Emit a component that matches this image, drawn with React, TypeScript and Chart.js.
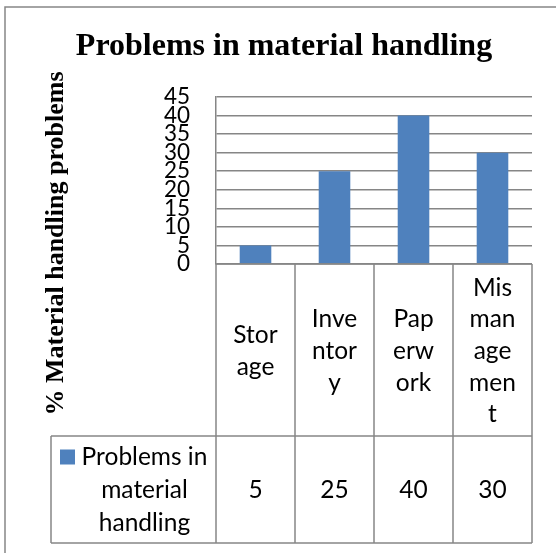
import { useEffect, useRef } from "react";
import { Chart, registerables } from "chart.js";

Chart.register(...registerables);

// ---- chart content ----
const chartTitle = "Problems in material handling";
const yAxisTitle = "% Material handling problems";
const seriesName = "Problems in material handling";
const categories = ["Storage", "Inventory", "Paperwork", "Mismanagement"];
// category names as they wrap inside the narrow table columns
const categoryLines = [
  ["Stor", "age"],
  ["Inve", "ntor", "y"],
  ["Pap", "erw", "ork"],
  ["Mis", "man", "age", "men", "t"],
];
const seriesValues = [5, 25, 40, 30];
const legendLines = ["Problems in", "material", "handling"];
const yMin = 0;
const yMax = 45;
const yStep = 5;

// ---- styling ----
const BAR_COLOR = "#4F81BD";
const LINE_COLOR = "#868686";
const TEXT_FONT = "Lato";
const SERIF_FONT = "'Liberation Serif', 'Times New Roman', serif";

const W = 556;
const H = 553;

const dataTablePlugin = {
  id: "dataTableFrame",
  afterDraw(chart: any) {
    const ctx: CanvasRenderingContext2D = chart.ctx;
    const xs = chart.scales.x;
    const ys = chart.scales.y;
    const area = chart.chartArea;
    const n = categories.length;
    const colW = (area.right - area.left) / n;
    const edges: number[] = [];
    for (let i = 0; i < n; i++) edges.push(xs.getPixelForValue(i) - colW / 2);
    edges.push(xs.getPixelForValue(n - 1) + colW / 2);

    const tableTop = ys.getPixelForValue(0);
    const rowSplit = tableTop + 172;
    const tableBottom = tableTop + 279;
    const legendLeft = 51;

    ctx.save();

    // outer chart frame
    ctx.strokeStyle = LINE_COLOR;
    ctx.lineWidth = 1.5;
    ctx.strokeRect(5, 7, W + 20, H + 20);

    // table grid
    ctx.beginPath();
    for (const e of edges) {
      ctx.moveTo(e, tableTop);
      ctx.lineTo(e, tableBottom);
    }
    ctx.moveTo(legendLeft, rowSplit);
    ctx.lineTo(legendLeft, tableBottom);
    ctx.moveTo(legendLeft, rowSplit);
    ctx.lineTo(edges[n], rowSplit);
    ctx.moveTo(legendLeft, tableBottom);
    ctx.lineTo(edges[n], tableBottom);
    ctx.moveTo(edges[0], tableTop);
    ctx.lineTo(edges[n], tableTop);
    ctx.stroke();

    // title
    ctx.fillStyle = "#000";
    ctx.font = `bold 32px ${SERIF_FONT}`;
    ctx.textAlign = "center";
    ctx.textBaseline = "alphabetic";
    ctx.fillText(chartTitle, 284, 55);

    // y axis title
    ctx.save();
    ctx.translate(63, (area.top + rowSplit) / 2 - 23);
    ctx.rotate(-Math.PI / 2);
    ctx.font = `bold 26px ${SERIF_FONT}`;
    ctx.fillText(yAxisTitle, 0, 0);
    ctx.restore();

    // category cells
    const lh = 31.6;
    ctx.font = `24.5px ${TEXT_FONT}`;
    ctx.textBaseline = "middle";
    categoryLines.forEach((lines, i) => {
      const cx = xs.getPixelForValue(i);
      const cy = (tableTop + rowSplit) / 2;
      lines.forEach((t, k) => {
        ctx.fillText(t, cx, cy + (k - (lines.length - 1) / 2) * lh + 1);
      });
    });

    // value cells
    const vy = (rowSplit + tableBottom) / 2;
    seriesValues.forEach((v, i) => {
      ctx.fillText(String(v), xs.getPixelForValue(i), vy + 1);
    });

    // legend cell
    const swatch = 15;
    ctx.fillStyle = BAR_COLOR;
    ctx.fillRect(legendLeft + 9, vy - 40, swatch, swatch);
    ctx.fillStyle = "#000";
    const textCx = (legendLeft + 30 + edges[0] - 8) / 2;
    legendLines.forEach((t, k) => {
      ctx.fillText(t, textCx, vy + (k - 1) * 33 + 1);
    });

    ctx.restore();
  },
};

export default function App() {
  const canvasRef = useRef<HTMLCanvasElement | null>(null);

  useEffect(() => {
    document.body.style.margin = "0";
    const canvas = canvasRef.current;
    if (!canvas) return;
    const chart = new Chart(canvas, {
      type: "bar",
      data: {
        labels: categories,
        datasets: [
          {
            label: seriesName,
            data: seriesValues,
            backgroundColor: BAR_COLOR,
            borderWidth: 0,
            barPercentage: 0.4,
            categoryPercentage: 1,
          },
        ],
      },
      options: {
        responsive: false,
        animation: false,
        devicePixelRatio: 1,
        layout: { padding: { left: 0, top: 97, right: 24, bottom: 289 } },
        plugins: {
          legend: { display: false },
          tooltip: { enabled: false },
          title: { display: false },
        },
        scales: {
          x: { display: false },
          y: {
            min: yMin,
            max: yMax,
            ticks: {
              stepSize: yStep,
              autoSkip: false,
              padding: 26,
              color: "#000",
              font: { family: TEXT_FONT, size: 22.5, lineHeight: 1 },
            },
            grid: { color: LINE_COLOR, lineWidth: 1.5, drawTicks: false },
            border: { display: true, color: LINE_COLOR, width: 1.5 },
            afterFit(scale: any) {
              scale.width = 216;
            },
          },
        },
      },
      plugins: [dataTablePlugin],
    });
    return () => chart.destroy();
  }, []);

  return (
    <div style={{ position: "absolute", left: 0, top: 0, width: W, height: H, background: "#fff" }}>
      <canvas ref={canvasRef} width={W} height={H} />
    </div>
  );
}
